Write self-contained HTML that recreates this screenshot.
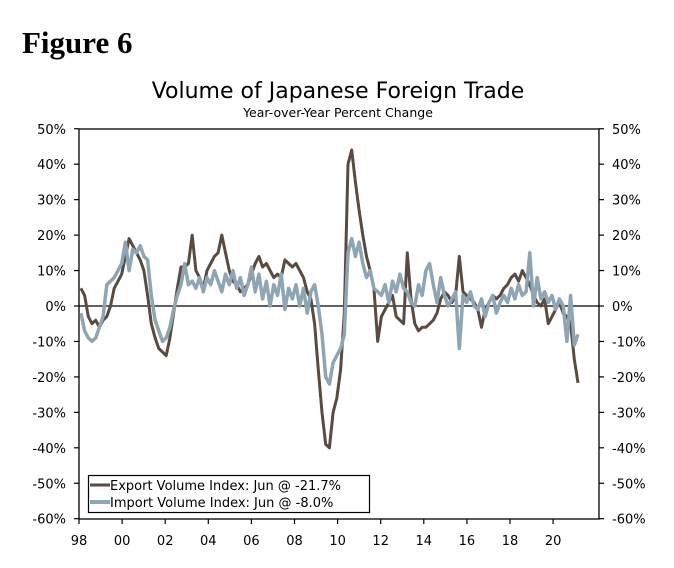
<!DOCTYPE html>
<html><head><meta charset="utf-8"><style>
body{margin:0;background:#fff;}
svg text{font-family:"DejaVu Sans","Liberation Sans",sans-serif;fill:#000;}
</style></head><body>
<svg id="chart" width="674" height="563" viewBox="0 0 674 563" xmlns="http://www.w3.org/2000/svg">
<text x="22" y="53" style="font-family:'Liberation Serif',serif;font-weight:bold;font-size:31px">Figure 6</text>
<text x="338" y="98" text-anchor="middle" font-size="22">Volume of Japanese Foreign Trade</text>
<text x="338" y="117" text-anchor="middle" font-size="12.5">Year-over-Year Percent Change</text>
<g id="axes"></g>
<g id="series"></g>
<g>
<rect x="88.5" y="475.5" width="281" height="37" fill="#fff" stroke="#000" stroke-width="1.2"/>
<line x1="90" y1="485" x2="110" y2="485" stroke="#5a4a40" stroke-width="3"/>
<text x="110" y="490" font-size="13">Export Volume Index: Jun @ -21.7%</text>
<line x1="90" y1="502" x2="110" y2="502" stroke="#8ea5b3" stroke-width="4"/>
<text x="110" y="507" font-size="13">Import Volume Index: Jun @ -8.0%</text>
</g>
</svg>
<script>
const yTicks=[50,40,30,20,10,0,-10,-20,-30,-40,-50,-60];
const xTickLabels=["98","00","02","04","06","08","10","12","14","16","18","20"];
const exportValues=[
5,3,-3,-5,-4,-6,
-4,-3,0,5,7,9,
14,19,17,15,13,10,
3,-5,-9,-12,-13,-14,
-9,-2,5,11,11,12,
20,10,8,5,10,12,
14,15,20,15,10,7,
6,4,5,6,9,12,
14,11,12,10,8,9,
8,13,12,11,12,10,
8,4,2,-5,-18,-30,
-39,-40,-30,-26,-18,-2,
40,44,35,27,20,14,
10,5,-10,-3,-1,1,
3,-3,-4,-5,15,2,
-5,-7,-6,-6,-5,-4,
-2,2,4,3,1,3,
14,4,3,2,1,-1,
-6,-1,1,3,2,3,
5,6,8,9,7,10,
8,6,3,1,0,2,
-5,-3,-1,1,-2,-3,
-5,-15,-21.7];
const importValues=[
-2,-7,-9,-10,-9,-6,
-3,6,7,8,10,12,
18,10,16,15,17,14,
13,3,-4,-7,-10,-9,
-6,-1,3,6,12,6,
7,5,8,4,8,6,
10,7,4,9,6,10,
5,8,3,6,11,4,
9,2,7,0,6,3,
9,-1,5,2,6,0,
5,-2,4,6,0,-8,
-20,-22,-16,-14,-12,-8,
15,19,14,18,12,8,
10,5,4,3,6,1,
7,4,9,5,4,1,
0,6,3,10,12,6,
1,8,3,0,2,4,
-12,3,1,4,0,-1,
2,-3,1,3,-2,1,
3,1,5,2,6,3,
4,15,0,8,2,4,
1,3,-1,2,0,-10,
3,-11,-8];

const NS="http://www.w3.org/2000/svg";
const L=79,R=599,T=129,B=519;
function y(v){return 306-(v)*3.545;}
function xm(i){return 79+(1+2*i)*(499/269);}   // bi-monthly points from Feb 1998
function xt(k){return 79+k*43.1;}
function mk(tag,attrs,parent){const e=document.createElementNS(NS,tag);for(const k in attrs)e.setAttribute(k,attrs[k]);parent.appendChild(e);return e;}
const ax=document.getElementById('axes');
let e;
e=mk('rect',{x:L,y:T,width:R-L,height:B-T,fill:'none',stroke:'#000','stroke-width':1.3},ax);


e=mk('line',{x1:L,x2:R,y1:y(0),y2:y(0),stroke:'#000','stroke-width':1.2},ax);


yTicks.forEach(v=>{
  mk('line',{x1:L-5,x2:L,y1:y(v),y2:y(v),stroke:'#000','stroke-width':1.2},ax);
  mk('line',{x1:R,x2:R+5,y1:y(v),y2:y(v),stroke:'#000','stroke-width':1.2},ax);
  let t=mk('text',{x:66,y:y(v)+5,'text-anchor':'end','font-size':13},ax);t.textContent=v+'%';
  
  
  t=mk('text',{x:612,y:y(v)+5,'font-size':13},ax);t.textContent=v+'%';
  
  
});
xTickLabels.forEach((lab,k)=>{
  mk('line',{x1:xt(k),x2:xt(k),y1:B,y2:B+5,stroke:'#000','stroke-width':1.2},ax);
  const t=mk('text',{x:xt(k),y:545,'text-anchor':'middle','font-size':13},ax);t.textContent=lab;
  
  
});
const sg=document.getElementById('series');
function line(vals,color,w,name){
  const d=vals.map((v,i)=>(i?'L':'M')+xm(i).toFixed(1)+','+y(v).toFixed(1)).join('');
  const p=mk('path',{d:d,fill:'none',stroke:color,'stroke-width':w,'stroke-linejoin':'round'},sg);
  
  
}
line(exportValues,'#5a4a40',3,'export-volume-line');
line(importValues,'#8ea5b3',3.5,'import-volume-line');
</script>
</body></html>
